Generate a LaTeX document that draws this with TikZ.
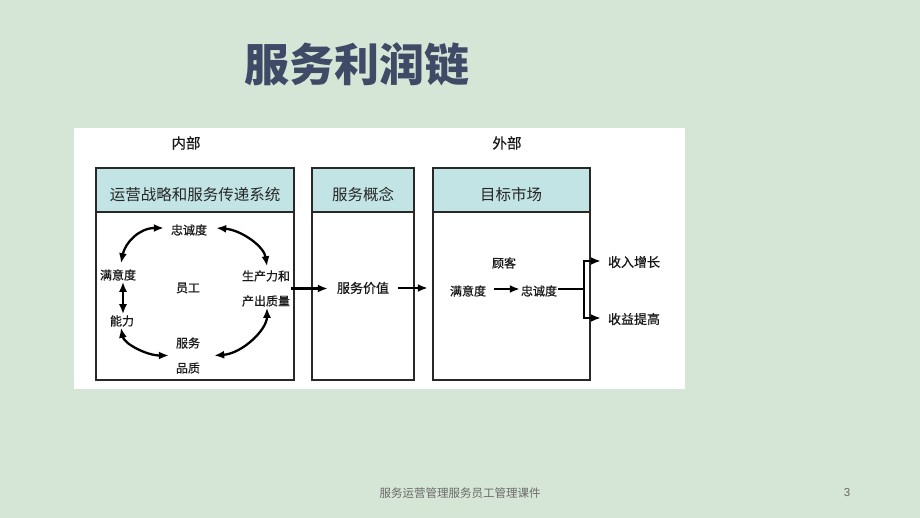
\documentclass[tikz,border=0pt]{standalone}
\usepackage{fontspec}
\setmainfont{Liberation Sans}
\newfontfamily\cjk{Noto Sans CJK SC}
\newfontfamily\cjkm[FakeBold=0.7]{Noto Sans CJK SC}
\usetikzlibrary{arrows.meta}
\definecolor{bgc}{RGB}{214,230,214}
\definecolor{hdr}{RGB}{194,228,229}
\definecolor{ttl}{RGB}{62,74,102}
\definecolor{foot}{RGB}{105,105,105}
\definecolor{frm}{RGB}{40,40,40}
\tikzset{
  panel/.style={draw=frm, line width=1.5pt},
  hdrbox/.style={panel, fill=hdr},
  hdrtxt/.style={font=\cjk\fontsize{15.5}{18}\selectfont, text=black!85},
  side/.style={font=\cjkm\fontsize{14.5}{17}\selectfont, text=black!90},
  lbl/.style={font=\cjkm\fontsize{12}{25}\selectfont, text=black!90, inner sep=1pt, align=center},
  lblb/.style={font=\cjkm\fontsize{13}{16}\selectfont, text=black!90, inner sep=1pt},
  tip/.style={-{Latex[length=10pt,width=8pt]}, line width=2.3pt, black},
  dbl/.style={{Latex[length=10pt,width=8pt]}-{Latex[length=10pt,width=8pt]}, line width=2.3pt, black},
  plain/.style={line width=2.3pt, black}
}
\begin{document}
\begin{tikzpicture}[x=1pt,y=-1pt]
\useasboundingbox (0,0) rectangle (920,518);
\fill[bgc] (0,0) rectangle (920,518);
\fill[white] (74,128) rectangle (685,389);

% title and footer
\node[font=\cjk\bfseries\fontsize{45}{50}\selectfont, text=ttl] (title) at (357,64) {服务利润链};
\node[font=\cjk\fontsize{11.5}{13}\selectfont, text=foot] (footer) at (460,493) {服务运营管理服务员工管理课件};
\node[font=\fontsize{11.5}{13}\selectfont, text=foot] (pageno) at (847,493) {3};

% section labels
\node[side] (inner) at (186,143) {内部};
\node[side] (outer) at (507,143) {外部};

% boxes
\draw[panel] (96,212) rectangle (294,380);
\draw[hdrbox] (96,168) rectangle (294,212);
\draw[panel] (312,212) rectangle (414,380);
\draw[hdrbox] (312,168) rectangle (414,212);
\draw[panel] (433,212) rectangle (590,380);
\draw[hdrbox] (433,168) rectangle (590,212);
\node[hdrtxt] (h1) at (195,195) {运营战略和服务传递系统};
\node[hdrtxt] (h2) at (363,195) {服务概念};
\node[hdrtxt] (h3) at (511,195) {目标市场};

% employee cycle
\node[lbl] (loy1) at (189,230) {忠诚度};
\node[lbl] (sat1) at (118,275) {满意度};
\node[lbl] (emp) at (188,288) {员工};
\node[lbl] (prod) at (266,288.5) {生产力和\\产出质量};
\node[lbl] (abil) at (122,321) {能力};
\node[lbl] (svc) at (188,355.5) {服务\\品质};

\draw[dbl] ([xshift=-6pt,yshift=2pt]loy1.west) .. controls +(-25,0) and +(4,-20) .. ([xshift=3pt,yshift=5pt]sat1.north);
\draw[dbl] ([xshift=8pt,yshift=2pt]loy1.east) .. controls +(25,2) and +(-3,-20) .. ([xshift=1pt,yshift=3pt]prod.north);
\draw[dbl] ([xshift=5pt]sat1.south) -- ([xshift=1pt]abil.north);
\draw[dbl] ([xshift=-1pt]abil.south) .. controls +(3,16) and +(-22,0) .. ([xshift=-6pt]svc.west);
\draw[dbl] ([xshift=13pt]svc.east) .. controls +(28,-2) and +(0,22) .. ([xshift=1pt]prod.south);

% value chain
\node[lbl, font=\cjkm\fontsize{13}{16}\selectfont, inner xsep=9pt] (val) at (363,288) {服务价值};
\node[lbl] (cust) at (504,263) {顾客};
\node[lbl, inner xsep=8pt] (sat2) at (468,291) {满意度};
\node[lbl, inner xsep=1pt] (loy2) at (539,291) {忠诚度};
\node[lblb] (inc) at (634,262) {收入增长};
\node[lblb] (prf) at (634,319) {收益提高};
\coordinate (br) at (584,289);

\draw[tip] (prod.east) -- (prod.east -| val.west);
\draw[tip, shorten >=14pt] (val.east) -- (val.east -| sat2.west);
\draw[tip] ([yshift=2pt]sat2.east) -- ([yshift=2pt]loy2.west);
\draw[plain] ([yshift=2pt]loy2.east) -- (br);
\draw[tip, shorten >=6pt] (br) |- ([yshift=1pt]inc.west);
\draw[tip, shorten >=6pt] (br) |- ([yshift=1pt]prf.west);
\end{tikzpicture}
\end{document}
